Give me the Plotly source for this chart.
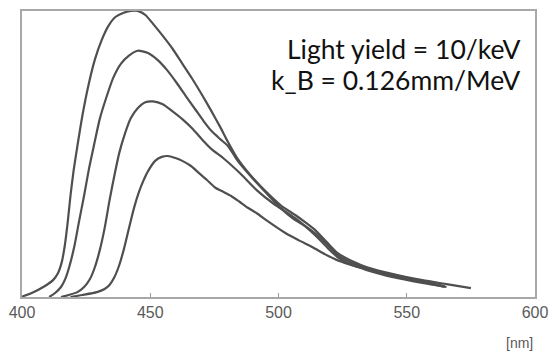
import plotly.graph_objects as go

# Emission spectra: wavelength [nm] vs. relative intensity (arbitrary units)
wl_1 = [399.6, 403.8, 408.3, 412.1, 414.0, 415.5, 416.7, 417.8, 418.9, 420.1, 421.6, 423.5, 425.8, 428.4,
        431.1, 433.7, 436.4, 439.4, 442.4, 445.1, 448.1, 451.1, 454.9, 458.7, 462.5, 466.3, 470.1, 473.9,
        477.3, 480.3, 484.1, 489.0, 495.5, 501.1, 506.8, 510.6, 514.4, 518.9, 523.1, 528.8, 534.5, 544.7,
        556.1, 565.5, 575.0]
int_1 = [0.000, 0.014, 0.035, 0.059, 0.083, 0.122, 0.181, 0.260, 0.354, 0.441, 0.528, 0.632, 0.736, 0.830,
         0.899, 0.948, 0.979, 0.993, 1.000, 1.000, 0.986, 0.955, 0.913, 0.868, 0.816, 0.764, 0.708, 0.649,
         0.594, 0.542, 0.483, 0.427, 0.365, 0.319, 0.285, 0.260, 0.233, 0.191, 0.153, 0.125, 0.104, 0.080,
         0.059, 0.045, 0.031]

wl_2 = [410.6, 412.9, 415.2, 417.0, 418.6, 420.5, 422.3, 424.2, 426.1, 428.0, 430.3, 433.0, 435.6, 438.6,
        441.7, 445.1, 448.9, 452.7, 456.4, 460.2, 464.0, 467.8, 470.8, 473.9, 477.3, 480.3, 484.1, 489.0,
        495.5, 501.1, 505.7, 510.6, 514.4, 518.9, 523.1, 528.8, 534.5, 544.7, 556.1, 564.8]
int_2 = [0.000, 0.014, 0.035, 0.066, 0.111, 0.181, 0.267, 0.354, 0.448, 0.528, 0.622, 0.701, 0.767, 0.816,
         0.844, 0.861, 0.854, 0.830, 0.795, 0.750, 0.701, 0.653, 0.615, 0.580, 0.552, 0.528, 0.476, 0.424,
         0.361, 0.309, 0.274, 0.247, 0.222, 0.184, 0.146, 0.118, 0.101, 0.076, 0.056, 0.038]

wl_3 = [415.2, 418.2, 421.6, 424.2, 426.5, 428.4, 430.3, 432.2, 434.1, 436.0, 437.9, 440.2, 442.4, 445.1,
        448.1, 451.1, 454.9, 458.7, 462.5, 466.3, 470.1, 473.9, 478.4, 485.2, 491.7, 498.1, 506.8, 514.4,
        518.9, 523.1, 528.8, 534.5, 544.7, 556.1, 564.8]
int_3 = [0.000, 0.007, 0.017, 0.035, 0.063, 0.104, 0.163, 0.240, 0.337, 0.424, 0.503, 0.573, 0.625, 0.660,
         0.681, 0.684, 0.674, 0.649, 0.622, 0.590, 0.552, 0.517, 0.486, 0.431, 0.372, 0.326, 0.274, 0.215,
         0.174, 0.139, 0.111, 0.097, 0.073, 0.052, 0.035]

wl_4 = [418.9, 423.5, 429.2, 432.2, 434.1, 436.0, 437.9, 439.8, 441.7, 443.6, 445.5, 447.3, 449.2, 451.9,
        454.5, 456.8, 459.8, 462.5, 465.9, 468.9, 472.0, 475.4, 478.4, 481.4, 484.8, 487.9, 491.7, 495.5,
        503.0, 508.0, 513.3, 518.2, 523.1, 528.8, 534.5, 544.7, 556.1, 565.5]
int_4 = [0.000, 0.007, 0.017, 0.028, 0.042, 0.069, 0.111, 0.170, 0.240, 0.309, 0.365, 0.406, 0.441, 0.476,
         0.490, 0.493, 0.486, 0.476, 0.458, 0.434, 0.410, 0.382, 0.368, 0.354, 0.333, 0.313, 0.292, 0.267,
         0.222, 0.198, 0.174, 0.149, 0.128, 0.111, 0.094, 0.069, 0.049, 0.035]

x_ticks = [400, 450, 500, 550, 600]
x_tick_labels = ["400", "450", "500", "550", "600"]

text_lines = ["Light yield = 10/keV", "k_B = 0.126mm/MeV"]

fig = go.Figure()
for wl, inten in [(wl_1, int_1), (wl_2, int_2), (wl_3, int_3), (wl_4, int_4)]:
    fig.add_trace(go.Scatter(
        x=wl, y=inten, mode="lines",
        line=dict(color="#4f4f4f", width=2.2, shape="spline", smoothing=0.6),
        showlegend=False, hoverinfo="skip",
    ))

text_font = dict(family="Lato, 'Source Sans Pro', sans-serif", size=26.5, color="#111111")
annotations = [
    dict(text=line, xref="paper", yref="paper", x=0.975, y=y,
         xanchor="right", yanchor="middle", align="right", showarrow=False, font=text_font)
    for line, y in zip(text_lines, [0.868, 0.760])
]
annotations.append(
    dict(text="[nm]", xref="paper", yref="paper", x=1.0, y=-0.16,
         xanchor="right", yanchor="middle", showarrow=False,
         font=dict(family="Liberation Sans, Arial, sans-serif", size=14, color="#5a5a5a"))
)

fig.update_layout(
    width=557, height=355,
    margin=dict(l=17, r=11, t=9, b=58),
    paper_bgcolor="white", plot_bgcolor="white",
    xaxis=dict(
        range=[400, 600], tickvals=x_ticks, ticktext=x_tick_labels,
        ticks="inside", ticklen=4, tickcolor="#999999",
        showline=True, mirror=True, linecolor="#a8a8a8", linewidth=1.5,
        showgrid=False, zeroline=False, ticklabeloverflow="allow",
        tickfont=dict(family="Liberation Sans, Arial, sans-serif", size=16, color="#5a5a5a"),
    ),
    yaxis=dict(
        range=[0, 1.0], showticklabels=False, ticks="",
        showline=True, mirror=True, linecolor="#a8a8a8", linewidth=1.5,
        showgrid=False, zeroline=False,
    ),
    annotations=annotations,
)

fig.write_html("out.html")
